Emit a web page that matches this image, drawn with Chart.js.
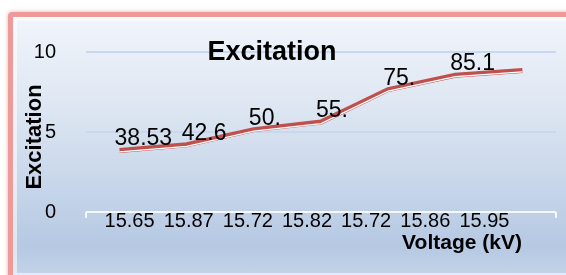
<!DOCTYPE html>
<html>
<head>
<meta charset="utf-8">
<script src="https://cdn.jsdelivr.net/npm/chart.js@4.4.1/dist/chart.umd.min.js"></script>
<style>
    html, body { margin: 0; padding: 0; background: #fff; }
    .wrap { position: relative; width: 566px; height: 275px; overflow: hidden; }
    .frame {
        position: absolute; left: 8px; top: 12px; width: 570px; height: 270px;
        border: 5px solid #ee9a98; border-radius: 4px; box-sizing: border-box;
        box-shadow: 0 0 4px rgba(220, 120, 120, 0.6);
        background: linear-gradient(to bottom, #f1f5fb 0%, #dde6f2 35%, #c3d3e8 70%, #b6c9e3 88%, #c4d3e8 100%);
    }
    .inner {
        position: absolute; left: 0; top: 0; right: 0; bottom: 0;
        border: 4px solid rgba(255, 255, 255, 0.55);
    }
    canvas { position: absolute; left: 0; top: 0; }
</style>
</head>
<body>
<div class="wrap">
    <div class="frame"><div class="inner"></div></div>
    <canvas id="chart" width="566" height="275"></canvas>
</div>
<script>
// values
const voltages = ['15.65', '15.87', '15.72', '15.82', '15.72', '15.86', '15.95'];
const excitation = [3.85, 4.2, 5.15, 5.62, 7.65, 8.55, 8.85];
const pointLabels = ['38.53', '42.6', '50.', '55.', '75.', '85.1', ''];
const yTicks = [0, 5, 10];

const font = '"Liberation Sans", Arial, sans-serif';

// extra text: chart title, axis titles, point labels
const textPlugin = {
    id: 'texts',
    afterDatasetsDraw(chart) {
        const ctx = chart.ctx;
        const meta = chart.getDatasetMeta(0);
        ctx.save();
        ctx.fillStyle = '#000';
        ctx.font = '23px ' + font;
        ctx.textAlign = 'left';
        ctx.textBaseline = 'alphabetic';
        meta.data.forEach((pt, i) => {
            ctx.fillText(pointLabels[i], pt.x - 5, pt.y - 5);
        });

        ctx.font = 'bold 27px ' + font;
        ctx.textAlign = 'center';
        ctx.textBaseline = 'middle';
        ctx.fillText('Excitation', 272, 53);

        ctx.font = 'bold 21px ' + font;
        ctx.fillText('Voltage (kV)', 462, 243);

        ctx.translate(35, 137);
        ctx.rotate(-Math.PI / 2);
        ctx.font = 'bold 22px ' + font;
        ctx.fillText('Excitation', 0, 0);
        ctx.restore();
    }
};

// the category labels in the original are packed tighter than the points
const labelAxisPlugin = {
    id: 'labelAxis',
    afterLayout(chart) {
        const s = chart.scales.xLabels;
        s.left = 100;
        s.right = 514;
        s.width = s.right - s.left;
        s.configure();
    }
};

// axis line with end ticks
const axisPlugin = {
    id: 'axisEnds',
    beforeDatasetsDraw(chart) {
        const a = chart.chartArea;
        const ctx = chart.ctx;
        ctx.save();
        ctx.strokeStyle = '#f4f7fb';
        ctx.lineWidth = 2;
        ctx.beginPath();
        ctx.moveTo(a.left, a.bottom);
        ctx.lineTo(a.right, a.bottom);
        ctx.moveTo(a.left, a.bottom);
        ctx.lineTo(a.left, a.bottom + 6);
        ctx.moveTo(a.right, a.bottom);
        ctx.lineTo(a.right, a.bottom + 6);
        ctx.stroke();
        ctx.restore();
    }
};

// white highlight sits just below the red line
const shiftPlugin = {
    id: 'shift',
    beforeDatasetDraw(chart, args) {
        if (args.index === 1) { chart.ctx.save(); chart.ctx.translate(0, 1.5); }
    },
    afterDatasetDraw(chart, args) {
        if (args.index === 1) chart.ctx.restore();
    }
};

new Chart(document.getElementById('chart'), {
    type: 'line',
    data: {
        labels: voltages,
        datasets: [
            {
                data: excitation,
                borderColor: '#c0504d',
                borderWidth: 5,
                pointRadius: 0,
                tension: 0,
                order: 2
            },
            {
                data: excitation,
                borderColor: '#ffffff',
                borderWidth: 1.2,
                pointRadius: 0,
                tension: 0,
                order: 1
            }
        ]
    },
    options: {
        responsive: false,
        animation: false,
        layout: { padding: { top: 52, right: 10, left: 0, bottom: 0 } },
        plugins: { legend: { display: false }, tooltip: { enabled: false }, title: { display: false } },
        scales: {
            x: {
                display: false,
                offset: true
            },
            xLabels: {
                type: 'category',
                position: 'bottom',
                labels: voltages,
                offset: true,
                grid: { display: false, drawTicks: false },
                border: { display: false },
                ticks: { color: '#000', font: { family: font, size: 20 }, padding: -3, maxRotation: 0, autoSkip: false },
                afterFit: s => { s.height = 63; }
            },
            y: {
                min: 0,
                max: 10,
                afterBuildTicks: s => { s.ticks = yTicks.map(v => ({ value: v })); },
                grid: {
                    color: c => c.tick.value === 0 ? 'rgba(0,0,0,0)' : '#c8d8ee',
                    lineWidth: 2,
                    drawTicks: false
                },
                border: { display: false },
                ticks: { color: '#000', font: { family: font, size: 20 }, padding: 30 },
                afterFit: s => { s.width = 86; }
            }
        }
    },
    plugins: [labelAxisPlugin, axisPlugin, shiftPlugin, textPlugin]
});
</script>
</body>
</html>
